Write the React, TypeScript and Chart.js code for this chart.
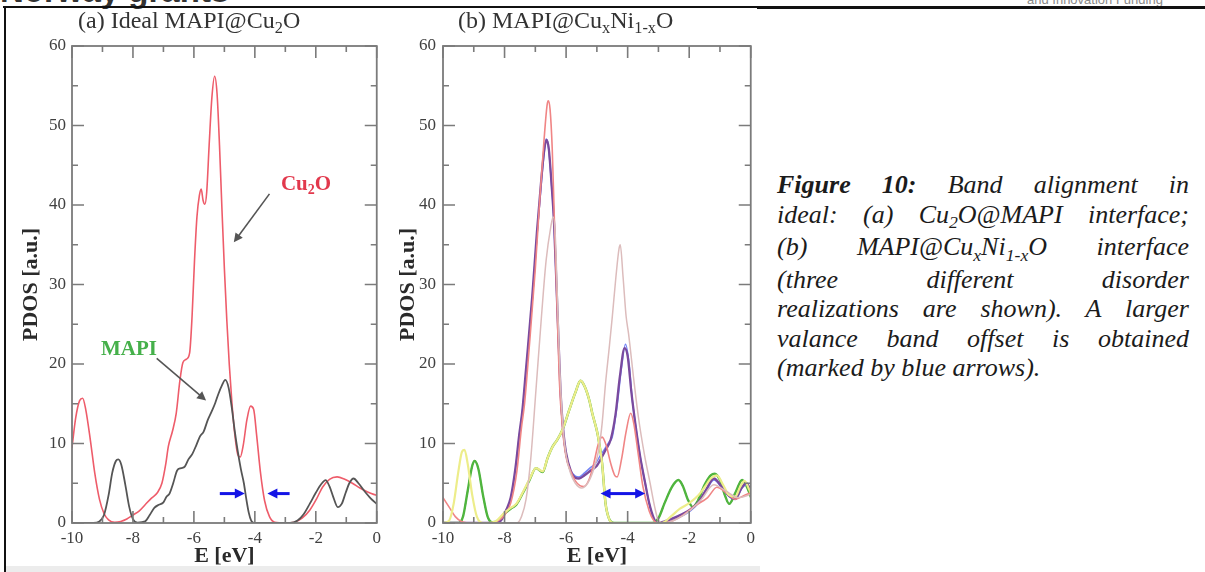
import React, { useEffect, useRef } from 'react';
import { Chart, registerables } from 'chart.js';

Chart.register(...registerables);

type Pt = [number, number];

// ---------- axis tick values ----------
const eTickValues = [-10, -8, -6, -4, -2, 0];
const eMinorTicks = [-9, -7, -5, -3, -1];
const pdosTickValues = [0, 10, 20, 30, 40, 50, 60];
const pdosMinorTicks = [5, 15, 25, 35, 45, 55];

// ---------- (a) ideal MAPI@Cu2O : [E (eV), PDOS] ----------
const cu2oIdeal: Pt[] = [
  [-10, 9.5], [-9.88, 13.2], [-9.75, 15.4], [-9.65, 15.7], [-9.55, 14.3], [-9.4, 10.5], [-9.25, 6.2],
  [-9.1, 3.0], [-8.95, 1.2], [-8.8, 0.4], [-8.6, 0.1], [-8.4, 0.2], [-8.2, 0.5], [-8.0, 1.0], [-7.8, 1.5],
  [-7.6, 2.3], [-7.4, 3.1], [-7.2, 3.8], [-7.05, 5.0], [-6.92, 7.5], [-6.84, 9.6], [-6.7, 11.6],
  [-6.58, 13.8], [-6.46, 17.9], [-6.36, 20.2], [-6.25, 20.6], [-6.14, 21.4], [-6.06, 26.0], [-5.98, 33.0],
  [-5.9, 38.5], [-5.82, 41.2], [-5.76, 42.0], [-5.7, 40.6], [-5.64, 40.1], [-5.58, 41.6], [-5.5, 47.5],
  [-5.41, 53.5], [-5.32, 56.2], [-5.24, 54.0], [-5.16, 47.5], [-5.08, 39.5], [-5.0, 32.0], [-4.92, 25.5],
  [-4.84, 20.0], [-4.75, 15.0], [-4.66, 11.2], [-4.56, 8.6], [-4.48, 8.3], [-4.38, 9.8], [-4.26, 13.0],
  [-4.14, 14.7], [-4.04, 14.3], [-3.94, 11.0], [-3.82, 6.5], [-3.68, 2.8], [-3.52, 0.8], [-3.35, 0.1],
  [-3.0, 0.0], [-2.7, 0.1], [-2.45, 0.6], [-2.2, 1.6], [-1.98, 3.0], [-1.78, 4.5], [-1.55, 5.5],
  [-1.3, 5.8], [-1.05, 5.5], [-0.8, 5.0], [-0.55, 4.4], [-0.3, 3.9], [-0.1, 3.6], [0, 3.5],
];

const mapiIdeal: Pt[] = [
  [-10, 0], [-9.3, 0], [-9.1, 0.2], [-8.95, 1.0], [-8.8, 3.5], [-8.68, 6.3], [-8.56, 7.8], [-8.48, 8.0],
  [-8.38, 7.3], [-8.25, 4.8], [-8.12, 2.0], [-8.0, 0.5], [-7.85, 0.05], [-7.6, 0.2], [-7.45, 1.0],
  [-7.3, 1.9], [-7.15, 2.3], [-7.0, 2.6], [-6.9, 3.3], [-6.8, 3.7], [-6.68, 5.0], [-6.55, 6.6],
  [-6.42, 6.9], [-6.3, 7.1], [-6.18, 8.0], [-6.05, 8.7], [-5.92, 9.8], [-5.8, 10.9], [-5.68, 11.5],
  [-5.55, 12.9], [-5.42, 14.0], [-5.3, 15.1], [-5.2, 16.2], [-5.08, 17.3], [-4.97, 18.0], [-4.86, 17.0],
  [-4.76, 14.6], [-4.66, 11.6], [-4.56, 9.0], [-4.46, 6.8], [-4.36, 5.0], [-4.28, 3.0], [-4.2, 1.3],
  [-4.12, 0.3], [-4.0, 0], [-2.85, 0], [-2.6, 0.3], [-2.4, 1.1], [-2.2, 2.4], [-2.0, 3.8], [-1.82, 4.9],
  [-1.68, 5.4], [-1.55, 4.6], [-1.42, 3.2], [-1.28, 2.0], [-1.15, 2.4], [-1.02, 3.8], [-0.9, 5.0],
  [-0.76, 5.6], [-0.6, 5.0], [-0.4, 4.0], [-0.2, 3.1], [0, 2.4],
];

// ---------- (b) MAPI@CuxNi1-xO ----------
const mapiGreen: Pt[] = [
  [-10, 0], [-9.5, 0], [-9.35, 0.8], [-9.2, 4.0], [-9.05, 7.2], [-8.97, 7.8], [-8.85, 6.8], [-8.7, 3.5],
  [-8.55, 0.8], [-8.4, 0.1], [-8.2, 0.3], [-8.0, 1.2], [-7.8, 1.8], [-7.62, 2.3], [-7.4, 3.8],
  [-7.19, 5.4], [-6.98, 6.9], [-6.76, 6.4], [-6.6, 8.2], [-6.44, 9.6], [-6.3, 10.4], [-6.12, 11.7],
  [-5.9, 14.2], [-5.7, 16.4], [-5.53, 17.9], [-5.4, 17.2], [-5.25, 15.5], [-5.15, 13.8], [-5.0, 11.6],
  [-4.94, 10.4], [-4.83, 7.5], [-4.72, 2.5], [-4.6, 0.5], [-4.45, 0], [-3.2, 0], [-3.0, 0.6],
  [-2.8, 2.5], [-2.55, 4.6], [-2.35, 5.4], [-2.2, 4.6], [-2.05, 3.0], [-1.88, 2.0], [-1.72, 2.8],
  [-1.5, 4.8], [-1.3, 6.0], [-1.17, 6.2], [-1.0, 5.4], [-0.85, 3.6], [-0.7, 2.4], [-0.5, 3.8],
  [-0.28, 5.4], [-0.12, 4.5], [0, 3.3],
];

const mapiYellow: Pt[] = [
  [-10, 0], [-9.8, 0.3], [-9.65, 2.5], [-9.5, 6.5], [-9.38, 9.0], [-9.3, 9.2], [-9.2, 7.5], [-9.05, 3.5],
  [-8.9, 0.8], [-8.7, 0], [-8.3, 0.2], [-8.0, 1.3], [-7.8, 1.9], [-7.62, 2.4], [-7.4, 3.9], [-7.19, 5.5],
  [-6.98, 6.9], [-6.76, 6.5], [-6.6, 8.2], [-6.44, 9.6], [-6.3, 10.4], [-6.12, 11.7], [-5.9, 14.2],
  [-5.7, 16.4], [-5.53, 17.9], [-5.4, 17.2], [-5.25, 15.5], [-5.15, 13.8], [-5.0, 11.6], [-4.94, 10.4],
  [-4.83, 7.5], [-4.72, 2.5], [-4.6, 0.5], [-4.45, 0], [-2.9, 0], [-2.6, 0.8], [-2.3, 1.8], [-2.0, 2.5],
  [-1.7, 3.5], [-1.5, 4.5], [-1.3, 5.6], [-1.1, 6.0], [-0.9, 4.8], [-0.7, 3.5], [-0.5, 3.3],
  [-0.35, 4.5], [-0.2, 5.3], [-0.05, 4.2], [0, 3.8],
];

const oxideRed: Pt[] = [
  [-10, 3.2], [-9.8, 2.0], [-9.6, 0.8], [-9.4, 0.2], [-9.0, 0], [-8.5, 0], [-8.2, 0.3], [-8.0, 1.0],
  [-7.8, 2.5], [-7.6, 6.5], [-7.45, 12.0], [-7.35, 15.0], [-7.2, 22.0], [-7.0, 32.0], [-6.85, 41.0],
  [-6.72, 48.0], [-6.62, 52.5], [-6.58, 53.1], [-6.52, 52.0], [-6.45, 47.0], [-6.38, 38.0], [-6.3, 28.0],
  [-6.22, 18.0], [-6.12, 12.0], [-6.0, 8.3], [-5.85, 6.5], [-5.7, 5.3], [-5.55, 4.7], [-5.42, 4.6],
  [-5.25, 5.5], [-5.1, 7.5], [-4.95, 10.0], [-4.83, 10.8], [-4.7, 9.8], [-4.55, 7.5], [-4.42, 6.0],
  [-4.34, 5.8], [-4.2, 8.0], [-4.05, 11.5], [-3.9, 13.8], [-3.8, 12.5], [-3.65, 8.5], [-3.5, 4.5],
  [-3.3, 1.5], [-3.15, 0.3], [-3.0, 0], [-2.6, 0.2], [-2.2, 1.0], [-1.8, 2.2], [-1.4, 3.2], [-1.1, 4.5],
  [-0.8, 3.8], [-0.5, 3.0], [-0.2, 3.5], [0, 3.8],
];

const oxideBlue: Pt[] = [
  [-10, 0], [-8.3, 0], [-8.1, 0.4], [-7.95, 1.6], [-7.8, 3.0], [-7.65, 6.5], [-7.52, 11.0], [-7.42, 14.0],
  [-7.3, 19.0], [-7.1, 28.0], [-6.95, 36.0], [-6.8, 43.0], [-6.7, 47.0], [-6.65, 48.3], [-6.58, 47.5],
  [-6.5, 44.0], [-6.39, 37.6], [-6.28, 26.0], [-6.18, 16.0], [-6.1, 11.5], [-6.0, 8.5], [-5.85, 6.6],
  [-5.7, 5.9], [-5.58, 5.8], [-5.4, 6.3], [-5.2, 7.0], [-5.04, 7.5], [-4.9, 8.4], [-4.75, 9.3],
  [-4.6, 10.2], [-4.5, 10.8], [-4.35, 14.5], [-4.2, 19.5], [-4.07, 22.5], [-3.95, 20.0], [-3.85, 15.5],
  [-3.75, 12.5], [-3.6, 8.5], [-3.43, 5.0], [-3.3, 2.5], [-3.16, 0.5], [-3.05, 0], [-2.8, 0],
  [-2.4, 0.6], [-2.0, 1.4], [-1.7, 2.5], [-1.45, 4.0], [-1.2, 5.4], [-0.95, 4.5], [-0.7, 3.3],
  [-0.5, 3.0], [-0.3, 4.3], [-0.15, 4.8], [0, 4.0],
];

const oxidePurple: Pt[] = [
  [-10, 0], [-8.3, 0], [-8.1, 0.4], [-7.95, 1.6], [-7.8, 3.2], [-7.65, 6.8], [-7.52, 11.2], [-7.42, 14.2],
  [-7.3, 19.5], [-7.1, 28.5], [-6.95, 36.5], [-6.8, 43.5], [-6.7, 47.2], [-6.63, 48.2], [-6.56, 47.0],
  [-6.48, 43.0], [-6.39, 37.6], [-6.28, 26.5], [-6.18, 16.5], [-6.1, 12.0], [-6.0, 8.8], [-5.85, 6.6],
  [-5.7, 5.7], [-5.58, 5.6], [-5.4, 6.0], [-5.2, 6.6], [-5.0, 7.2], [-4.85, 8.2], [-4.7, 9.3],
  [-4.55, 10.5], [-4.4, 13.5], [-4.25, 18.5], [-4.1, 22.0], [-4.0, 21.0], [-3.88, 16.5], [-3.75, 12.5],
  [-3.6, 8.5], [-3.43, 5.0], [-3.3, 2.5], [-3.15, 0.6], [-3.05, 0], [-2.8, 0.2], [-2.4, 0.8],
  [-2.0, 1.6], [-1.7, 2.6], [-1.45, 4.2], [-1.2, 5.6], [-0.95, 4.6], [-0.7, 3.4], [-0.5, 3.0],
  [-0.3, 4.4], [-0.15, 5.0], [0, 4.2],
];

const oxideTan: Pt[] = [
  [-10, 0], [-7.6, 0], [-7.45, 0.8], [-7.3, 3.0], [-7.15, 8.0], [-6.98, 16.7], [-6.8, 26.0], [-6.65, 33.0],
  [-6.5, 37.2], [-6.42, 38.5], [-6.35, 36.0], [-6.28, 28.0], [-6.2, 19.0], [-6.1, 12.0], [-6.0, 8.5],
  [-5.85, 6.2], [-5.7, 5.0], [-5.5, 4.4], [-5.3, 5.0], [-5.1, 6.8], [-4.94, 9.2], [-4.83, 12.5],
  [-4.72, 17.5], [-4.6, 22.0], [-4.5, 25.9], [-4.38, 31.0], [-4.28, 34.5], [-4.24, 35.0], [-4.15, 31.0],
  [-4.05, 26.0], [-3.97, 23.8], [-3.8, 18.0], [-3.65, 13.3], [-3.45, 8.5], [-3.27, 5.0], [-3.12, 2.0],
  [-3.0, 0.3], [-2.8, 0], [-2.4, 0.5], [-2.0, 1.5], [-1.6, 3.0], [-1.2, 4.8], [-0.8, 4.0], [-0.4, 3.2],
  [0, 3.6],
];

// ---------- styles ----------
const SERIF = '"Liberation Serif", "Times New Roman", serif';
const tickColor = '#404040';
const axisTitleColor = '#2a2a2a';

type Part = { t: string; sub?: boolean };
type Label = { at: Pt; parts: Part[]; color: string; size: number };
type Arrow = { from: Pt; to: Pt; color: string; width: number; head: number; both?: boolean };

const leftLabels: Label[] = [
  { at: [-2.32, 42.8], parts: [{ t: 'Cu' }, { t: '2', sub: true }, { t: 'O' }], color: '#e2384c', size: 21 },
  { at: [-8.13, 22.0], parts: [{ t: 'MAPI' }], color: '#45b04a', size: 21 },
];
const leftArrows: Arrow[] = [
  { from: [-3.52, 41.4], to: [-4.69, 35.3], color: '#555', width: 1.6, head: 9 },
  { from: [-7.22, 20.7], to: [-5.6, 15.4], color: '#555', width: 1.6, head: 9 },
  { from: [-5.15, 3.7], to: [-4.33, 3.7], color: '#1414e6', width: 3, head: 10 },
  { from: [-2.86, 3.7], to: [-3.59, 3.7], color: '#1414e6', width: 3, head: 10 },
];
const rightLabels: Label[] = [];
const rightArrows: Arrow[] = [
  { from: [-4.88, 3.7], to: [-3.43, 3.7], color: '#1414e6', width: 3, head: 10, both: true },
];

function arrowHead(ctx: CanvasRenderingContext2D, x: number, y: number, ang: number, head: number) {
  const hw = head * 0.5;
  const c = Math.cos(ang), s = Math.sin(ang);
  ctx.beginPath();
  ctx.moveTo(x, y);
  ctx.lineTo(x - head * c + hw * s, y - head * s - hw * c);
  ctx.lineTo(x - head * c - hw * s, y - head * s + hw * c);
  ctx.closePath();
  ctx.fill();
}

const framePlugin = {
  id: 'frameTicks',
  afterDatasetsDraw(chart: any) {
    const { ctx, chartArea: a, scales } = chart;
    const x = scales.x, y = scales.y;
    ctx.save();
    ctx.strokeStyle = '#7b7b7b';
    ctx.lineWidth = 1.8;
    ctx.strokeRect(a.left, a.top, a.right - a.left, a.bottom - a.top);
    ctx.lineWidth = 1.6;
    ctx.beginPath();
    const xt = (vals: number[], len: number) => {
      for (const v of vals) {
        const p = x.getPixelForValue(v);
        ctx.moveTo(p, a.bottom); ctx.lineTo(p, a.bottom - len);
        ctx.moveTo(p, a.top); ctx.lineTo(p, a.top + len);
      }
    };
    const yt = (vals: number[], len: number) => {
      for (const v of vals) {
        const p = y.getPixelForValue(v);
        ctx.moveTo(a.left, p); ctx.lineTo(a.left + len, p);
        ctx.moveTo(a.right, p); ctx.lineTo(a.right - len, p);
      }
    };
    xt(eTickValues, 12); xt(eMinorTicks, 6);
    yt(pdosTickValues, 12); yt(pdosMinorTicks, 6);
    ctx.stroke();
    ctx.restore();
  },
};

function makeAnnotPlugin(labels: Label[], arrows: Arrow[]) {
  return {
    id: 'annot',
    afterDraw(chart: any) {
      const { ctx, scales } = chart;
      const x = scales.x, y = scales.y;
      ctx.save();
      for (const ar of arrows) {
        const x1 = x.getPixelForValue(ar.from[0]), y1 = y.getPixelForValue(ar.from[1]);
        const x2 = x.getPixelForValue(ar.to[0]), y2 = y.getPixelForValue(ar.to[1]);
        const ang = Math.atan2(y2 - y1, x2 - x1);
        ctx.strokeStyle = ar.color; ctx.fillStyle = ar.color; ctx.lineWidth = ar.width;
        ctx.beginPath();
        const sh = ar.head * 0.7;
        ctx.moveTo(ar.both ? x1 + sh * Math.cos(ang) : x1, ar.both ? y1 + sh * Math.sin(ang) : y1);
        ctx.lineTo(x2 - sh * Math.cos(ang), y2 - sh * Math.sin(ang));
        ctx.stroke();
        arrowHead(ctx, x2, y2, ang, ar.head);
        if (ar.both) arrowHead(ctx, x1, y1, ang + Math.PI, ar.head);
      }
      for (const lb of labels) {
        const cx = x.getPixelForValue(lb.at[0]), cy = y.getPixelForValue(lb.at[1]);
        const main = `bold ${lb.size}px ${SERIF}`;
        const sub = `bold ${Math.round(lb.size * 0.65)}px ${SERIF}`;
        let w = 0;
        for (const p of lb.parts) { ctx.font = p.sub ? sub : main; w += ctx.measureText(p.t).width; }
        let px = cx - w / 2;
        const base = cy + lb.size * 0.33;
        ctx.fillStyle = lb.color; ctx.textBaseline = 'alphabetic'; ctx.textAlign = 'left';
        for (const p of lb.parts) {
          ctx.font = p.sub ? sub : main;
          ctx.fillText(p.t, px, p.sub ? base + lb.size * 0.22 : base);
          px += ctx.measureText(p.t).width;
        }
      }
      ctx.restore();
    },
  };
}

const toPts = (arr: Pt[]) => arr.map(([x, y]) => ({ x, y }));

function line(data: Pt[], color: string, width: number, extra: any = {}) {
  return { data: toPts(data), borderColor: color, borderWidth: width, pointRadius: 0, fill: false, ...extra };
}

function buildChart(canvas: HTMLCanvasElement, datasets: any[], cfg: {
  yAxisWidth: number; yTitlePad: number; yTickPad: number; padRight: number; labels: Label[]; arrows: Arrow[];
}) {
  return new Chart(canvas, {
    type: 'line',
    data: { datasets },
    options: {
      animation: false,
      responsive: false,
      maintainAspectRatio: false,
      devicePixelRatio: 1,
      events: [],
      layout: { padding: { left: 0, top: 46, right: cfg.padRight, bottom: 0 } },
      elements: { point: { radius: 0 }, line: { cubicInterpolationMode: 'monotone', borderJoinStyle: 'round', borderCapStyle: 'round' } },
      plugins: { legend: { display: false }, tooltip: { enabled: false }, title: { display: false } },
      scales: {
        x: {
          type: 'linear', min: -10, max: 0,
          grid: { display: false, drawTicks: false },
          border: { display: false },
          afterBuildTicks: (s: any) => { s.ticks = eTickValues.map((v) => ({ value: v })); },
          ticks: { padding: 5, color: tickColor, font: { family: SERIF, size: 17 }, maxRotation: 0, autoSkip: false, callback: (v: any) => String(v) },
          title: { display: true, text: 'E [eV]', color: axisTitleColor, font: { family: SERIF, size: 22, weight: 'bold' }, padding: { top: 0, bottom: 2 } },
          afterFit: (s: any) => { s.height = 49; },
        },
        y: {
          type: 'linear', min: 0, max: 60,
          grid: { display: false, drawTicks: false },
          border: { display: false },
          afterBuildTicks: (s: any) => { s.ticks = pdosTickValues.map((v) => ({ value: v })); },
          ticks: { padding: cfg.yTickPad, color: tickColor, font: { family: SERIF, size: 17 }, autoSkip: false, callback: (v: any) => String(v) },
          title: { display: true, text: 'PDOS [a.u.]', color: axisTitleColor, font: { family: SERIF, size: 22, weight: 'bold' }, padding: { top: cfg.yTitlePad, bottom: 0 } },
          afterFit: (s: any) => { s.width = cfg.yAxisWidth; },
        },
      },
    } as any,
    plugins: [framePlugin, makeAnnotPlugin(cfg.labels, cfg.arrows)],
  });
}

const Sub = ({ children }: { children: React.ReactNode }) => (
  <span style={{ fontSize: '0.68em', position: 'relative', top: '0.32em' }}>{children}</span>
);

const captionLines: React.ReactNode[] = [
  <><b>Figure 10:</b> Band alignment in</>,
  <>ideal: (a) Cu<Sub>2</Sub>O@MAPI interface;</>,
  <>(b) MAPI@Cu<Sub>x</Sub>Ni<Sub>1-x</Sub>O interface</>,
  <>(three different disorder</>,
  <>realizations are shown). A larger</>,
  <>valance band offset is obtained</>,
  <>(marked by blue arrows).</>,
];

export default function App() {
  const leftRef = useRef<HTMLCanvasElement>(null);
  const rightRef = useRef<HTMLCanvasElement>(null);

  useEffect(() => {
    const left = buildChart(leftRef.current!, [
      line(mapiIdeal, '#555555', 1.8),
      line(cu2oIdeal, '#ee5c6a', 1.6),
    ], { yAxisWidth: 72, yTitlePad: 18, yTickPad: 6, padRight: 4, labels: leftLabels, arrows: leftArrows });

    const right = buildChart(rightRef.current!, [
      line(oxideTan, '#dcbcbc', 1.5),
      line(mapiYellow, '#eded8a', 2.2),
      line(oxideRed, '#f08585', 1.6),
      line(oxidePurple, '#7a4a9e', 2.3),
      line(oxideBlue, '#7383f5', 1.5),
      line(mapiGreen, '#4fb53e', 2.4),
      line(mapiGreen, '#262626', 1.3, { borderDash: [1.5, 2.5] }),
    ], { yAxisWidth: 57, yTitlePad: 9, yTickPad: 7, padRight: 7, labels: rightLabels, arrows: rightArrows });

    return () => { left.destroy(); right.destroy(); };
  }, []);

  return (
    <div style={{ position: 'absolute', left: 0, top: 0, width: 1205, height: 572, overflow: 'hidden', background: '#fff', fontFamily: SERIF }}>
      <div style={{ position: 'absolute', left: 0, top: -26, fontFamily: '"Liberation Sans", Arial, sans-serif', fontWeight: 'bold', fontSize: 33, lineHeight: '33px', color: '#333', whiteSpace: 'nowrap' }}>Norway grants</div>
      <div style={{ position: 'absolute', left: 1027, top: -7, fontFamily: '"Liberation Sans", Arial, sans-serif', fontSize: 13, lineHeight: '13px', color: '#8a8a8a', whiteSpace: 'nowrap' }}>and Innovation Funding</div>
      <div style={{ position: 'absolute', left: 6, top: 566, width: 754, height: 6, background: '#ececec' }} />
      <canvas ref={leftRef} width={386} height={572} style={{ position: 'absolute', left: 0, top: 0 }} />
      <canvas ref={rightRef} width={374} height={572} style={{ position: 'absolute', left: 386, top: 0 }} />
      <div style={{ position: 'absolute', left: 3, top: 6, width: 757, height: 2, background: '#111' }} />
      <div style={{ position: 'absolute', left: 757, top: 6, width: 448, height: 3, background: '#111' }} />
      <div style={{ position: 'absolute', left: 4, top: 6, width: 2, height: 566, background: '#111' }} />
      <div style={{ position: 'absolute', left: 78, top: 8, fontSize: 24, lineHeight: '24px', color: '#333', whiteSpace: 'nowrap' }}>
        (a) Ideal MAPI@Cu<Sub>2</Sub>O
      </div>
      <div style={{ position: 'absolute', left: 458, top: 8, fontSize: 24, lineHeight: '24px', color: '#333', whiteSpace: 'nowrap' }}>
        (b) MAPI@Cu<Sub>x</Sub>Ni<Sub>1-x</Sub>O
      </div>
      <div style={{ position: 'absolute', left: 777, top: 170, width: 412, fontSize: 26, lineHeight: '29.5px', fontStyle: 'italic', color: '#1b1b1b' }}>
        {captionLines.map((l, i) => (
          <div key={i} style={{ textAlign: 'justify', textAlignLast: i < captionLines.length - 1 ? 'justify' : 'left', whiteSpace: 'nowrap' } as any}>{l}</div>
        ))}
      </div>
    </div>
  );
}
